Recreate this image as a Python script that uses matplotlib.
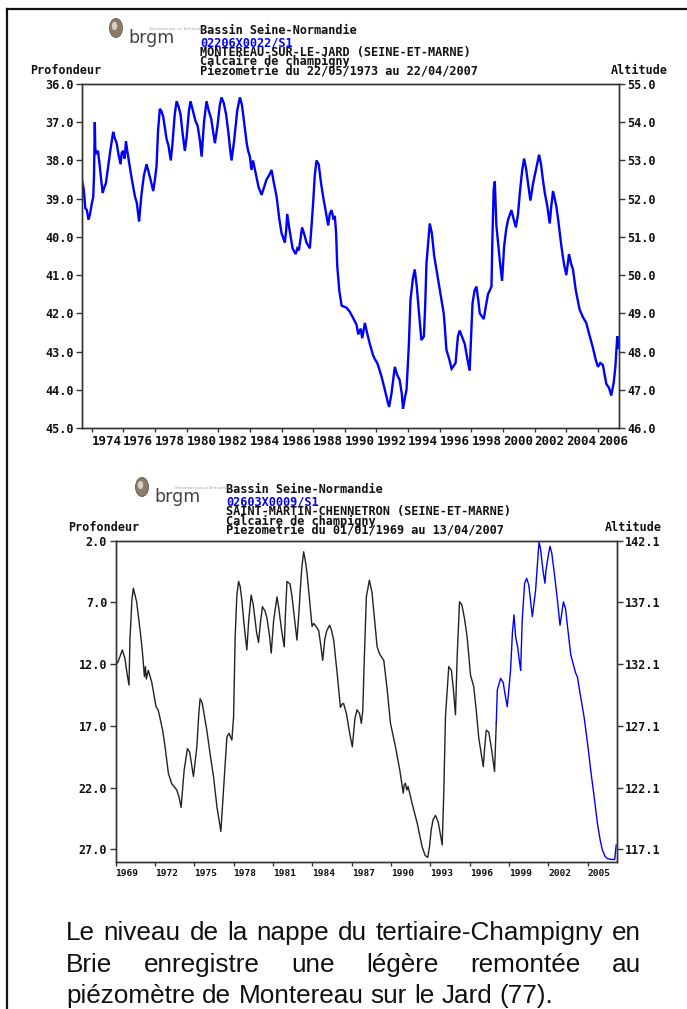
import matplotlib
matplotlib.use("Agg")
import matplotlib.pyplot as plt
from matplotlib.lines import Line2D
from matplotlib.patches import Circle
import numpy as np

W, H = 687, 1009

# ---------------- Montereau-sur-le-Jard piezometer (depth, m) ----------------
mont_year = [
    1973.40, 1973.50, 1973.60, 1973.70, 1973.80, 1973.90, 1974.00, 1974.10, 1974.15, 1974.20,
    1974.23, 1974.30, 1974.40, 1974.50, 1974.60, 1974.70, 1974.80, 1974.90, 1975.00, 1975.16,
    1975.36, 1975.45, 1975.58, 1975.70, 1975.83, 1975.90, 1976.00, 1976.08, 1976.17, 1976.25,
    1976.31, 1976.50, 1976.74, 1976.85, 1977.00, 1977.08, 1977.16, 1977.30, 1977.47, 1977.60,
    1977.75, 1977.89, 1978.00, 1978.10, 1978.20, 1978.31, 1978.40, 1978.52, 1978.65, 1978.74,
    1978.85, 1979.00, 1979.10, 1979.25, 1979.37, 1979.50, 1979.62, 1979.75, 1979.89, 1980.00,
    1980.15, 1980.25, 1980.40, 1980.55, 1980.70, 1980.85, 1980.95, 1981.10, 1981.26, 1981.40,
    1981.55, 1981.70, 1981.79, 1981.95, 1982.10, 1982.21, 1982.35, 1982.50, 1982.65, 1982.75,
    1982.84, 1983.00, 1983.20, 1983.37, 1983.50, 1983.65, 1983.80, 1983.89, 1984.00, 1984.10,
    1984.20, 1984.35, 1984.55, 1984.74, 1984.90, 1985.05, 1985.20, 1985.37, 1985.50, 1985.69,
    1985.85, 1986.00, 1986.21, 1986.30, 1986.36, 1986.50, 1986.70, 1986.89, 1987.00, 1987.10,
    1987.30, 1987.45, 1987.58, 1987.79, 1987.90, 1988.00, 1988.10, 1988.21, 1988.35, 1988.50,
    1988.65, 1988.74, 1988.95, 1989.05, 1989.16, 1989.30, 1989.37, 1989.45, 1989.52, 1989.65,
    1989.80, 1990.10, 1990.30, 1990.50, 1990.74, 1990.85, 1991.00, 1991.10, 1991.27, 1991.40,
    1991.58, 1991.79, 1991.90, 1992.05, 1992.21, 1992.35, 1992.53, 1992.70, 1992.80, 1992.95,
    1993.16, 1993.30, 1993.47, 1993.60, 1993.68, 1993.80, 1993.90, 1994.04, 1994.15, 1994.30,
    1994.42, 1994.55, 1994.67, 1994.84, 1995.00, 1995.08, 1995.16, 1995.37, 1995.50, 1995.65,
    1995.79, 1996.11, 1996.25, 1996.32, 1996.42, 1996.60, 1996.75, 1996.84, 1997.00, 1997.15,
    1997.26, 1997.40, 1997.58, 1997.75, 1997.89, 1998.00, 1998.07, 1998.20, 1998.32, 1998.45,
    1998.53, 1998.78, 1998.92, 1999.05, 1999.27, 1999.33, 1999.41, 1999.48, 1999.58, 1999.70,
    1999.79, 1999.94, 2000.07, 2000.20, 2000.32, 2000.53, 2000.65, 2000.81, 2000.95, 2001.06,
    2001.20, 2001.33, 2001.45, 2001.55, 2001.73, 2001.90, 2002.10, 2002.28, 2002.40, 2002.52,
    2002.64, 2002.80, 2002.95, 2003.05, 2003.16, 2003.37, 2003.50, 2003.69, 2003.85, 2004.00,
    2004.17, 2004.30, 2004.42, 2004.60, 2004.84, 2005.05, 2005.26, 2005.45, 2005.68, 2005.85,
    2006.00, 2006.15, 2006.31, 2006.53, 2006.70, 2006.84, 2007.00, 2007.10, 2007.22, 2007.28,
]
mont_depth = [
    38.55, 38.75, 39.25, 39.30, 39.55, 39.40, 39.15, 38.95, 38.40, 37.00,
    37.70, 37.80, 37.75, 38.10, 38.50, 38.85, 38.70, 38.60, 38.30, 37.80,
    37.25, 37.40, 37.55, 37.85, 38.10, 37.80, 37.75, 37.95, 37.50, 37.75,
    37.90, 38.40, 38.95, 39.10, 39.60, 39.20, 38.85, 38.40, 38.10, 38.30,
    38.55, 38.80, 38.50, 38.15, 37.20, 36.65, 36.70, 36.85, 37.20, 37.45,
    37.60, 38.00, 37.60, 36.80, 36.45, 36.60, 36.80, 37.30, 37.75, 37.40,
    36.70, 36.45, 36.70, 36.95, 37.10, 37.50, 37.90, 37.00, 36.45, 36.70,
    36.90, 37.30, 37.55, 37.10, 36.55, 36.35, 36.50, 36.80, 37.30, 37.70,
    38.00, 37.50, 36.70, 36.35, 36.55, 37.05, 37.55, 37.75, 37.90, 38.25,
    38.00, 38.30, 38.70, 38.90, 38.70, 38.50, 38.40, 38.25, 38.55, 38.95,
    39.50, 39.90, 40.15, 39.80, 39.40, 39.80, 40.30, 40.45, 40.30, 40.35,
    39.75, 39.95, 40.15, 40.30, 39.70, 39.10, 38.40, 38.00, 38.10, 38.60,
    39.00, 39.20, 39.70, 39.40, 39.30, 39.55, 39.45, 39.90, 40.75, 41.40,
    41.80, 41.85, 41.95, 42.10, 42.30, 42.55, 42.40, 42.65, 42.25, 42.50,
    42.80, 43.10, 43.20, 43.30, 43.50, 43.70, 44.00, 44.30, 44.45, 44.10,
    43.40, 43.60, 43.75, 44.10, 44.50, 44.20, 44.00, 42.90, 41.65, 41.10,
    40.85, 41.30, 41.90, 42.70, 42.60, 41.80, 40.70, 39.65, 39.90, 40.50,
    40.85, 41.65, 42.00, 42.35, 42.95, 43.20, 43.45, 43.40, 43.30, 42.60,
    42.45, 42.60, 42.80, 43.20, 43.50, 42.40, 41.75, 41.40, 41.30, 41.70,
    42.00, 42.15, 41.80, 41.50, 41.30, 40.00, 38.75, 38.55, 39.70, 40.20,
    40.60, 41.15, 40.25, 39.80, 39.55, 39.30, 39.50, 39.75, 39.40, 38.85,
    38.30, 37.95, 38.20, 38.50, 39.05, 38.60, 38.20, 37.85, 38.10, 38.50,
    38.85, 39.20, 39.65, 39.20, 38.80, 39.20, 39.60, 40.25, 40.70, 41.00,
    40.45, 40.70, 40.85, 41.40, 41.90, 42.10, 42.25, 42.55, 42.90, 43.20,
    43.40, 43.30, 43.35, 43.85, 43.95, 44.15, 43.80, 43.40, 42.60, 42.90,
]
mont_xticks = list(range(1974, 2007, 2))
mont_depth_ticks = [36.0, 37.0, 38.0, 39.0, 40.0, 41.0, 42.0, 43.0, 44.0, 45.0]
mont_alt_ticks = [46.0, 47.0, 48.0, 49.0, 50.0, 51.0, 52.0, 53.0, 54.0, 55.0]
mont_offset = 91.0  # altitude = offset - depth

# ---------------- Saint-Martin-Chennetron piezometer (depth, m) ----------------
stm_year_old = [
    1969.00, 1969.20, 1969.52, 1969.72, 1969.90, 1970.03, 1970.10, 1970.25, 1970.36, 1970.61,
    1970.80, 1970.99, 1971.10, 1971.20, 1971.28, 1971.35, 1971.50, 1971.76, 1971.95, 1972.09,
    1972.25, 1972.40, 1972.60, 1972.78, 1973.03, 1973.29, 1973.50, 1973.67, 1973.85, 1974.00,
    1974.10, 1974.23, 1974.48, 1974.65, 1974.94, 1975.20, 1975.35, 1975.45, 1975.60, 1975.96,
    1976.20, 1976.47, 1976.73, 1977.03, 1977.23, 1977.49, 1977.65, 1977.87, 1978.00, 1978.12,
    1978.25, 1978.38, 1978.50, 1978.63, 1978.80, 1979.01, 1979.15, 1979.34, 1979.50, 1979.75,
    1979.90, 1980.05, 1980.20, 1980.40, 1980.55, 1980.75, 1980.87, 1981.05, 1981.31, 1981.45,
    1981.65, 1981.86, 1981.95, 1982.07, 1982.30, 1982.45, 1982.57, 1982.83, 1983.00, 1983.08,
    1983.20, 1983.34, 1983.45, 1983.60, 1983.80, 1983.98, 1984.10, 1984.25, 1984.48, 1984.65,
    1984.79, 1984.95, 1985.10, 1985.32, 1985.45, 1985.63, 1985.90, 1986.14, 1986.30, 1986.39,
    1986.60, 1986.85, 1987.05, 1987.25, 1987.41, 1987.60, 1987.74, 1987.85, 1987.95, 1988.12,
    1988.35, 1988.55, 1988.75, 1988.94, 1989.14, 1989.45, 1989.70, 1989.96, 1990.34, 1990.67,
    1990.93, 1991.00, 1991.10, 1991.20, 1991.30, 1991.61, 1992.00, 1992.37, 1992.60, 1992.80,
    1992.93, 1993.06, 1993.20, 1993.39, 1993.60, 1993.80, 1993.90, 1994.02, 1994.15, 1994.40,
    1994.60, 1994.75, 1994.91, 1995.04, 1995.22, 1995.40, 1995.60, 1995.80, 1996.06, 1996.30,
    1996.50, 1996.69, 1997.03, 1997.15, 1997.26, 1997.45, 1997.65, 1997.89, 1998.02,
]
stm_depth_old = [
    12.10, 11.80, 10.85, 11.55, 12.90, 13.70, 10.05, 6.80, 5.85, 6.95,
    8.60, 10.35, 11.60, 13.00, 12.20, 13.20, 12.50, 13.45, 14.60, 15.45,
    15.70, 16.40, 17.40, 18.70, 20.85, 21.70, 21.95, 22.20, 22.80, 23.60,
    22.30, 20.60, 18.85, 19.10, 21.10, 18.70, 16.00, 14.80, 15.10, 17.35,
    19.20, 21.10, 23.55, 25.55, 22.20, 17.90, 17.60, 18.15, 16.25, 9.80,
    6.40, 5.30, 5.70, 6.80, 8.80, 10.85, 8.50, 6.40, 7.20, 9.40,
    10.25, 8.60, 7.35, 7.70, 8.30, 9.80, 11.10, 8.50, 6.55, 7.50,
    9.20, 10.60, 8.00, 5.30, 5.50, 6.50, 7.60, 10.05, 7.50, 6.00,
    4.20, 2.90, 3.50, 4.65, 6.90, 8.95, 8.70, 8.90, 9.25, 10.50,
    11.70, 10.00, 9.30, 8.85, 9.20, 10.05, 12.80, 15.50, 15.20, 15.20,
    16.00, 17.60, 18.70, 16.40, 15.70, 16.00, 16.80, 15.70, 12.00, 6.55,
    5.20, 6.20, 8.50, 10.60, 11.20, 11.70, 14.00, 16.80, 18.70, 20.60,
    22.45, 21.80, 21.65, 22.20, 21.90, 23.30, 24.90, 26.80, 27.50, 27.65,
    26.80, 25.45, 24.60, 24.25, 24.80, 26.00, 26.65, 22.45, 16.25, 12.20,
    12.50, 14.00, 16.10, 11.40, 6.95, 7.20, 8.30, 9.80, 12.90, 13.80,
    15.80, 18.00, 20.30, 18.60, 17.35, 17.50, 18.80, 20.70, 16.80,
]
stm_year_new = [
    1998.02, 1998.10, 1998.35, 1998.55, 1998.70, 1998.86, 1999.11, 1999.25, 1999.37, 1999.50,
    1999.65, 1999.80, 1999.88, 2000.00, 2000.18, 2000.34, 2000.50, 2000.65, 2000.77, 2001.02,
    2001.15, 2001.28, 2001.40, 2001.58, 2001.73, 2001.80, 2002.00, 2002.12, 2002.25, 2002.42,
    2002.65, 2002.88, 2003.14, 2003.30, 2003.50, 2003.70, 2004.08, 2004.20, 2004.35, 2004.71,
    2005.00, 2005.22, 2005.50, 2005.73, 2005.95, 2006.11, 2006.30, 2006.49, 2006.80, 2007.05,
    2007.16,
]
stm_depth_new = [
    16.80, 14.10, 13.15, 13.50, 14.50, 15.45, 12.50, 9.50, 8.00, 9.80,
    10.60, 11.90, 12.50, 8.40, 5.45, 5.05, 5.60, 7.00, 8.15, 6.00,
    4.00, 2.10, 2.70, 4.40, 5.45, 4.50, 3.10, 2.45, 3.00, 4.40,
    6.50, 8.85, 6.95, 7.50, 9.40, 11.25, 12.75, 13.00, 14.00, 16.25,
    18.60, 20.60, 22.90, 24.90, 26.30, 27.05, 27.55, 27.75, 27.82, 27.82,
    26.65,
]
stm_xticks = list(range(1969, 2006, 3))
stm_depth_ticks = [2.0, 7.0, 12.0, 17.0, 22.0, 27.0]
stm_alt_ticks = [117.1, 122.1, 127.1, 132.1, 137.1, 142.1]
stm_offset = 144.1

# ---------------- styles ----------------
MONO = "DejaVu Sans Mono"
BLUE = "#0000ff"
INK = "#111111"
AXC = "#333333"

fig = plt.figure(figsize=(W / 100, H / 100), dpi=100)
fig.patch.set_facecolor("white")


def fx(x):
    return x / W


def fy(y):
    return 1 - y / H


def rect(l, t, r, b):
    return [fx(l), fy(b), (r - l) / W, (b - t) / H]


def style_axis(ax, label_size):
    for s in ax.spines.values():
        s.set_color(AXC)
        s.set_linewidth(1.0)
    ax.tick_params(axis="both", direction="out", length=4, width=1, color=AXC,
                   labelsize=label_size, pad=2)
    for lab in ax.get_yticklabels():
        lab.set_fontfamily(MONO)
        lab.set_fontweight("bold")
        lab.set_color(INK)


def panel(l, t, r, b, xlim, ylim, xticks, yticks, alt_ticks, offset, xlab_size):
    ax = fig.add_axes(rect(l, t, r, b))
    ax.set_xlim(*xlim)
    ax.set_ylim(*ylim)
    ax.set_xticks(xticks)
    ax.set_xticklabels([str(v) for v in xticks])
    ax.set_yticks(yticks)
    ax.set_yticklabels([f"{v:.1f}" for v in yticks])
    style_axis(ax, 8.5)
    for lab in ax.get_xticklabels():
        lab.set_fontfamily(MONO)
        lab.set_fontweight("bold")
        lab.set_fontsize(xlab_size)
        lab.set_horizontalalignment("left")
        lab.set_color(INK)
    ax.tick_params(axis="x", length=3)
    ax2 = ax.twinx()
    ax2.set_ylim(offset - ylim[0], offset - ylim[1])
    ax2.set_yticks(alt_ticks)
    ax2.set_yticklabels([f"{v:.1f}" for v in alt_ticks])
    style_axis(ax2, 8.5)
    return ax


def header(x_text, y_base, lines, code, logo_x, logo_y):
    fs = 8.6
    ys = [y_base, y_base + 12.5, y_base + 22, y_base + 31.5, y_base + 40.5]
    colors = [INK, BLUE, INK, INK, INK]
    texts = [lines[0], code, lines[1], lines[2], lines[3]]
    for t, y, c in zip(texts, ys, colors):
        fig.text(fx(x_text), fy(y), t, fontsize=fs, family=MONO, fontweight="bold",
                 color=c, va="baseline", ha="left")
    # brgm logo
    fig.patches.append(Circle((fx(logo_x), fy(logo_y)), 6.5 / W, transform=fig.transFigure,
                              facecolor="#8c7b6b", edgecolor="#6b5b4e", linewidth=0.6))
    fig.patches.append(Circle((fx(logo_x - 1.5), fy(logo_y - 2)), 2.8 / W, transform=fig.transFigure,
                              facecolor="#d8cfc4", edgecolor="none"))
    fig.text(fx(logo_x + 12), fy(logo_y + 15), "brgm", fontsize=12.5, family="DejaVu Sans Condensed",
             color="#444444", va="baseline", ha="left")
    fig.text(fx(logo_x + 33), fy(logo_y + 1), "Géosciences pour une Terre durable", fontsize=2.2,
             family="DejaVu Sans", color="#9a9a9a", va="center", ha="left")


# ---- first panel ----
ax1 = panel(82, 84, 619, 428, (1973.39, 2007.33), (45.0, 36.0),
            mont_xticks, mont_depth_ticks, mont_alt_ticks, mont_offset, 9)
ax1.plot(mont_year, mont_depth, color=BLUE, lw=1.7, solid_joinstyle="miter")
header(200, 34, ["Bassin Seine-Normandie", "MONTEREAU-SUR-LE-JARD (SEINE-ET-MARNE)",
                 "Calcaire de champigny", "Piezometrie du 22/05/1973 au 22/04/2007"],
       "02206X0022/S1", 116, 28)
fig.text(fx(30), fy(74), "Profondeur", fontsize=8.5, family=MONO, fontweight="bold",
         color=INK, va="baseline", ha="left")
fig.text(fx(668), fy(74), "Altitude", fontsize=8.5, family=MONO, fontweight="bold",
         color=INK, va="baseline", ha="right")

# ---- second panel ----
ax2 = panel(115.5, 540.7, 616.7, 861.7, (1969.0, 2007.2), (28.0, 2.0),
            stm_xticks, stm_depth_ticks, stm_alt_ticks, stm_offset, 6.8)
ax2.plot(stm_year_old, stm_depth_old, color="#222222", lw=1.0)
ax2.plot(stm_year_new, stm_depth_new, color=BLUE, lw=1.0)
header(226, 493, ["Bassin Seine-Normandie", "SAINT-MARTIN-CHENNETRON (SEINE-ET-MARNE)",
                  "Calcaire de champigny", "Piezometrie du 01/01/1969 au 13/04/2007"],
       "02603X0009/S1", 142, 487)
fig.text(fx(68), fy(531), "Profondeur", fontsize=8.5, family=MONO, fontweight="bold",
         color=INK, va="baseline", ha="left")
fig.text(fx(662), fy(531), "Altitude", fontsize=8.5, family=MONO, fontweight="bold",
         color=INK, va="baseline", ha="right")

# ---- page frame (left and top rules) ----
fig.add_artist(Line2D([fx(7), fx(7)], [fy(9), 0], transform=fig.transFigure,
                      color="#111111", lw=1.6))
fig.add_artist(Line2D([fx(7), 1], [fy(9), fy(9)], transform=fig.transFigure,
                      color="#111111", lw=1.6))

# ---- justified paragraph ----
para = [
    ("Le niveau de la nappe du tertiaire-Champigny en", True),
    ("Brie enregistre une légère remontée au", True),
    ("piézomètre de Montereau sur le Jard (77).", False),
]
x_left, x_right = 66, 641
baselines = [940, 972, 1003]
renderer = fig.canvas.get_renderer()
PFONT = "Liberation Sans"


def width_of(s, size):
    t = fig.text(0, 0, s, fontsize=size, family=PFONT)
    w = t.get_window_extent(renderer).width
    t.remove()
    return w


probe = width_of(para[0][0], 10)
psize = 10 * (x_right - x_left) / probe * 0.985
space_w = width_of("n n", psize) - width_of("nn", psize)

for (line, justify), yb in zip(para, baselines):
    words = line.split(" ")
    widths = [width_of(w, psize) for w in words]
    gap = (x_right - x_left - sum(widths)) / (len(words) - 1) if justify else space_w
    x = x_left
    for w, wd in zip(words, widths):
        fig.text(fx(x), fy(yb), w, fontsize=psize, family=PFONT, color="#111111",
                 va="baseline", ha="left")
        x += wd + gap

fig.savefig("out.png", dpi=100, facecolor="white")
